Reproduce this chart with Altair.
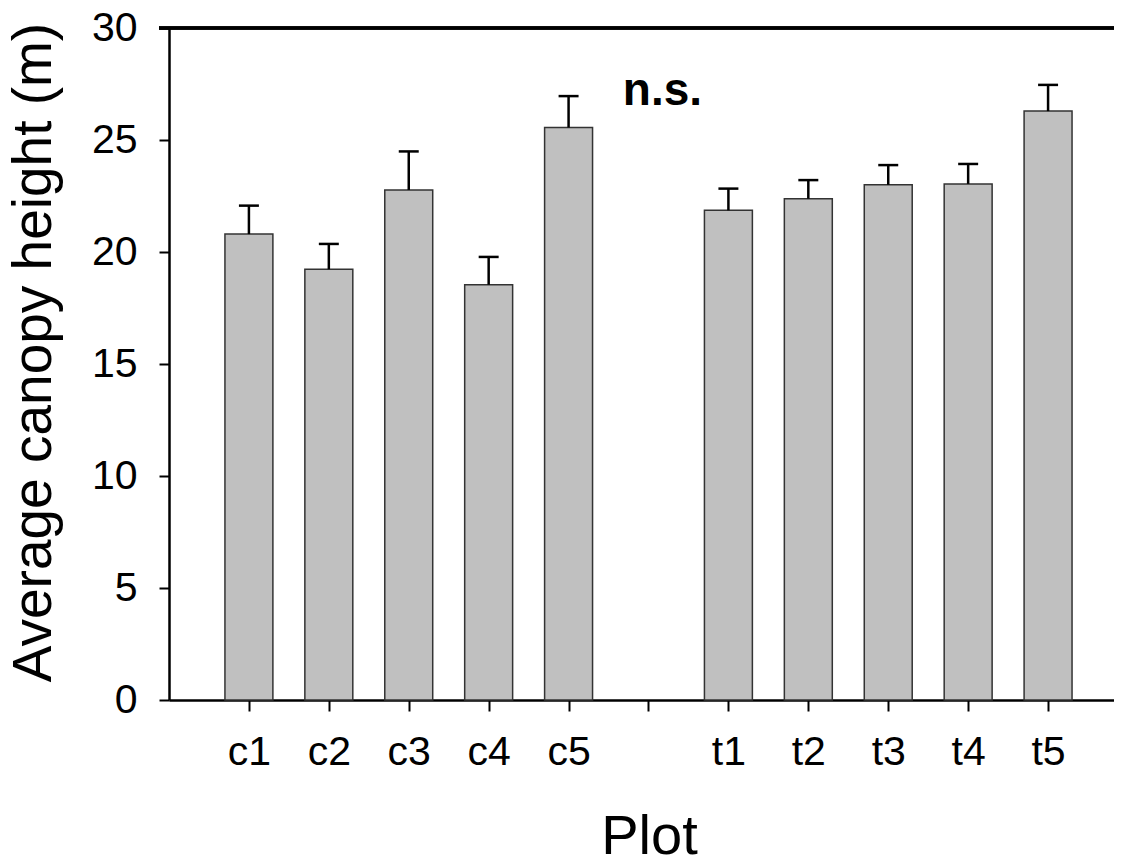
import altair as alt
import pandas as pd

# Data
control_plots = ["c1", "c2", "c3", "c4", "c5"]
control_means = [20.80, 19.23, 22.77, 18.54, 25.56]
control_errs = [1.27, 1.13, 1.72, 1.24, 1.40]

treat_plots = ["t1", "t2", "t3", "t4", "t5"]
treat_means = [21.86, 22.38, 23.00, 23.04, 26.29]
treat_errs = [0.97, 0.83, 0.88, 0.89, 1.17]

y_ticks = [0, 5, 10, 15, 20, 25, 30]
annotation = "n.s."

FONT = "Liberation Sans"

rows = []
for i, (p, m, e) in enumerate(zip(control_plots, control_means, control_errs)):
    rows.append({"plot": p, "pos": i + 1, "mean": m, "err": e})
for i, (p, m, e) in enumerate(zip(treat_plots, treat_means, treat_errs)):
    rows.append({"plot": p, "pos": i + 7, "mean": m, "err": e})
df = pd.DataFrame(rows)

slot_positions = list(range(1, 12))
label_map = {r["pos"]: r["plot"] for r in rows}
label_expr = ""
for pos in slot_positions:
    label_expr += f"datum.value == {pos} ? '{label_map.get(pos, '')}' : "
label_expr += "''"

W = 945
H = 672
x_max = 11.825

xscale = alt.Scale(domain=[0, x_max], nice=False, zero=False)
yscale = alt.Scale(domain=[0, 30], nice=False)

base = alt.Chart(df).transform_calculate(
    x0="datum.pos - 0.3",
    x1="datum.pos + 0.3",
    c0="datum.pos - 0.125",
    c1="datum.pos + 0.125",
    top="datum.mean + datum.err",
)

bars = base.mark_bar(color="#C0C0C0", stroke="#333333", strokeWidth=1.5).encode(
    x=alt.X(
        "x0:Q",
        scale=xscale,
        axis=alt.Axis(
            values=slot_positions,
            labelExpr=label_expr,
            title="Plot",
            titleFontSize=56,
            titleFont=FONT,
            titleFontWeight="normal",
            titleColor="black",
            titleX=480,
            titleY=153,
            titleBaseline="alphabetic",
            titleAnchor="start",
            titleAlign="center",
            labelFont=FONT,
            labelFontSize=41,
            labelColor="black",
            labelPadding=21,
            tickSize=11,
            tickWidth=2,
            tickColor="black",
            domainWidth=2.5,
            domainColor="black",
            grid=False,
            labelFlush=False,
            labelOverlap=False,
        ),
    ),
    x2="x1:Q",
    y=alt.Y(
        "mean:Q",
        scale=yscale,
        axis=alt.Axis(
            values=y_ticks,
            title="Average canopy height (m)",
            titleFontSize=55,
            titleFont=FONT,
            titleFontWeight="normal",
            titleColor="black",
            titleX=-119,
            titleY=324,
            titleBaseline="alphabetic",
            titleAnchor="start",
            titleAlign="center",
            titleAngle=-90,
            labelFont=FONT,
            labelFontSize=41,
            labelColor="black",
            labelPadding=22,
            tickSize=10,
            tickWidth=2,
            tickColor="black",
            domainWidth=2.5,
            domainColor="black",
            grid=False,
            labelFlush=False,
        ),
    ),
    y2=alt.Y2(datum=0),
)

stems = base.mark_rule(color="black", strokeWidth=2.5).encode(
    x=alt.X("pos:Q", scale=xscale),
    y=alt.Y("mean:Q", scale=yscale),
    y2="top:Q",
)

caps = base.mark_rule(color="black", strokeWidth=2.5).encode(
    x=alt.X("c0:Q", scale=xscale),
    x2="c1:Q",
    y=alt.Y("top:Q", scale=yscale),
)

top_line = alt.Chart(df).mark_rule(color="black", strokeWidth=2.5).encode(
    x=alt.value(-10), x2=alt.value(W), y=alt.value(0)
)

ns = alt.Chart(pd.DataFrame({"x": [6.175], "y": [26.56], "t": [annotation]})).mark_text(
    font=FONT, fontSize=46, fontWeight="bold", color="black", align="center", baseline="alphabetic"
).encode(
    x=alt.X("x:Q", scale=xscale),
    y=alt.Y("y:Q", scale=yscale),
    text="t:N",
)

chart = (
    alt.layer(bars, stems, caps, ns, top_line)
    .properties(
        width=W,
        height=H,
        autosize="none",
        padding={"left": 161, "top": 20, "right": 0, "bottom": 157},
    )
    .configure_view(stroke=None)
    .configure(background="white")
)

chart.save("out.html", embed_options={"renderer": "svg", "actions": False})
